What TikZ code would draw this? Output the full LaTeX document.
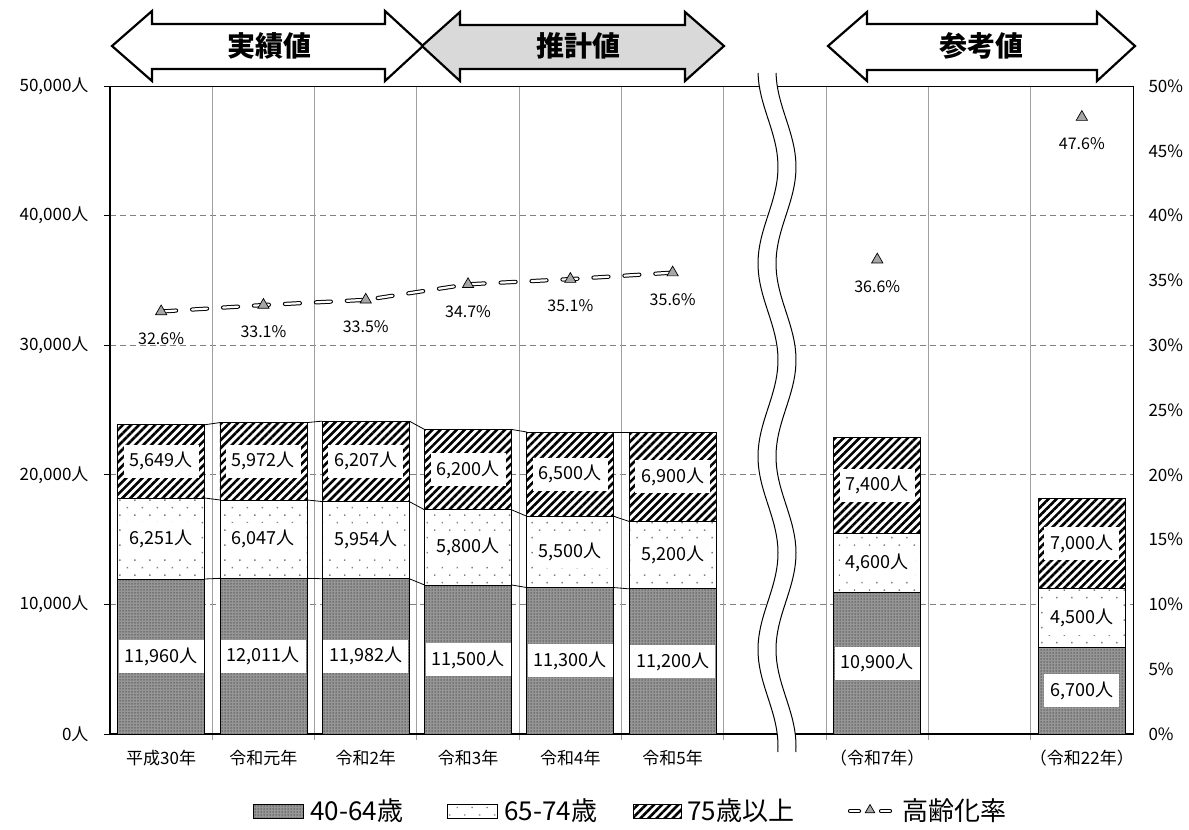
\documentclass[tikz,border=0pt]{standalone}
\usepackage{fontspec}
\setmainfont{Noto Sans CJK JP}
\usetikzlibrary{patterns.meta,shapes.geometric}
\definecolor{hgrid}{HTML}{808080}
\definecolor{vgrid}{HTML}{A0A0A0}
\definecolor{darkfill}{HTML}{969696}
\definecolor{darkdot}{HTML}{505050}
\definecolor{arrowgray}{HTML}{D9D9D9}
\definecolor{markgray}{HTML}{A6A6A6}
\pgfkeys{/pgf/number format/.cd,1000 sep={,},assume math mode=true}
\newcommand{\fs}[1]{\fontsize{#1}{#1}\selectfont}
\begin{document}
\begin{tikzpicture}[x=1pt,y=-1pt,
  seg1/.style={draw=black,line width=0.8pt,preaction={fill=darkfill},pattern={Dots[distance=3pt,radius=0.75pt]},pattern color=darkdot},
  seg2/.style={draw=black,line width=0.8pt,preaction={fill=white},pattern={Dots[distance=10.6pt,angle=45,radius=1pt]},pattern color=gray},
  seg3/.style={draw=black,line width=0.8pt,preaction={fill=white},pattern={Lines[angle=45,distance=5.7pt,line width=2.6pt]},pattern color=black},
  vlab/.style={fill=white,inner xsep=6pt,inner ysep=0pt,minimum height=33pt,font=\fs{18}},
  pline/.style={draw=black,line width=1pt,double=white,double distance=2.2pt,line cap=round,dash pattern=on 15pt off 16pt},
  tri/.style={regular polygon,regular polygon sides=3,minimum size=13pt,inner sep=0pt,fill=markgray,draw=black,line width=0.7pt},
  arr/.style={draw=black,line width=2.2pt,line join=miter},
  arrlab/.style={font=\bfseries\fs{28}},
  axlab/.style={font=\fs{17}},
  cat/.style={font=\fs{17}},
  pct/.style={font=\fs{16}},
  leg/.style={anchor=west,font=\fs{26}}
]
\useasboundingbox (0,0) rectangle (1189,830);
\fill[white] (0,0) rectangle (1189,830);

% grid
\foreach \k in {1,...,4} {
  \pgfmathsetmacro\yy{734-129.6*\k}
  \draw[hgrid,line width=0.8pt,dash pattern=on 6pt off 4pt] (110,\yy) -- (1133,\yy);
}
\foreach \j in {1,...,9} {
  \pgfmathsetmacro\xx{110+102.3*\j}
  \draw[vgrid,line width=1pt] (\xx,86) -- (\xx,740);
}
\draw[black,line width=0.8pt] (110,86) rectangle (1133,734);
\draw[black,line width=1.3pt] (110,86) -- (110,734);
\draw[black,line width=1.5pt] (110,734) -- (1133,734);

% axis labels
\foreach \k/\lab in {0/0,1/{10,000},2/{20,000},3/{30,000},4/{40,000},5/{50,000}} {
  \pgfmathsetmacro\yy{734-129.6*\k}
  \draw[black,line width=0.8pt] (104,\yy) -- (110,\yy);
  \node[axlab,anchor=east] (yl\k) at (92,\yy) {\lab 人};
}
\foreach \k in {0,...,10} {
  \pgfmathsetmacro\yy{734-64.8*\k}
  \pgfmathtruncatemacro\pv{5*\k}
  \node[axlab,anchor=west] (yr\k) at (1145,\yy) {\pv\%};
}

% bars
\foreach \i/\a/\b/\c in {0/11960/6251/5649,1/12011/6047/5972,2/11982/5954/6207,3/11500/5800/6200,4/11300/5500/6500,5/11200/5200/6900,7/10900/4600/7400,9/6700/4500/7000} {
  \pgfmathsetmacro\xc{110+102.3*(\i+0.5)}
  \pgfmathsetmacro\ya{734-12.96*(\a/1000)}
  \pgfmathsetmacro\yb{734-12.96*(\a/1000+\b/1000)}
  \pgfmathsetmacro\yc{734-12.96*(\a/1000+\b/1000+\c/1000)}
  \draw[seg1] (\xc-43.5,734) rectangle (\xc+43.5,\ya);
  \draw[seg2] (\xc-43.5,\ya) rectangle (\xc+43.5,\yb);
  \draw[seg3] (\xc-43.5,\yb) rectangle (\xc+43.5,\yc);
  \node[vlab] (la\i) at (\xc,{(734+\ya)/2}) {\pgfmathprintnumber{\a}人};
  \node[vlab] (lb\i) at (\xc,{(\ya+\yb)/2}) {\pgfmathprintnumber{\b}人};
  \node[vlab] (lc\i) at (\xc,{(\yb+\yc)/2}) {\pgfmathprintnumber{\c}人};
}

% series lines
\foreach \i/\a/\b/\c/\A/\B/\C in {0/11960/6251/5649/12011/6047/5972,1/12011/6047/5972/11982/5954/6207,2/11982/5954/6207/11500/5800/6200,3/11500/5800/6200/11300/5500/6500,4/11300/5500/6500/11200/5200/6900} {
  \pgfmathsetmacro\xr{110+102.3*(\i+0.5)+43.5}
  \pgfmathsetmacro\xl{110+102.3*(\i+1.5)-43.5}
  \draw[black,line width=0.8pt] (\xr,{734-12.96*(\a/1000)}) -- (\xl,{734-12.96*(\A/1000)});
  \draw[black,line width=0.8pt] (\xr,{734-12.96*(\a/1000+\b/1000)}) -- (\xl,{734-12.96*(\A/1000+\B/1000)});
  \draw[black,line width=0.8pt] (\xr,{734-12.96*(\a/1000+\b/1000+\c/1000)}) -- (\xl,{734-12.96*(\A/1000+\B/1000+\C/1000)});
}

% categories
\foreach \i/\t in {0/平成30年,1/令和元年,2/令和2年,3/令和3年,4/令和4年,5/令和5年,7/（令和7年）,9/（令和22年）} {
  \pgfmathsetmacro\xc{110+102.3*(\i+0.5)}
  \node[cat] (cat\i) at (\xc,758) {\t};
}

% break
\fill[white] plot[domain=73:752,samples=120,variable=\t] ({768+10*cos(1.8653*(\t-167))},\t)
  -- plot[domain=752:73,samples=120,variable=\t] ({786+10*cos(1.8653*(\t-167))},\t) -- cycle;
\draw[black,line width=1pt] plot[domain=73:752,samples=120,variable=\t] ({768+10*cos(1.8653*(\t-167))},\t);
\draw[black,line width=1pt] plot[domain=73:752,samples=120,variable=\t] ({786+10*cos(1.8653*(\t-167))},\t);

% ageing rate
\foreach \i/\p in {0/32.6,1/33.1,2/33.5,3/34.7,4/35.1,5/35.6,7/36.6,9/47.6} {
  \pgfmathsetmacro\xc{110+102.3*(\i+0.5)}
  \coordinate (p\i) at (\xc,{734-12.96*\p});
}
\draw[pline] (p0) -- (p1) -- (p2) -- (p3) -- (p4) -- (p5);
\foreach \i/\p in {0/32.6,1/33.1,2/33.5,3/34.7,4/35.1,5/35.6,7/36.6,9/47.6} {
  \node[tri] (m\i) at (p\i) {};
  \node[pct] (q\i) at ([yshift=-27pt]p\i) {\p\%};
}

% top arrows
\draw[arr,fill=white] (112,46) -- (152,11) -- (152,24) -- (385,24) -- (385,11) -- (423,46) -- (385,81) -- (385,69) -- (152,69) -- (152,81) -- cycle;
\draw[arr,fill=arrowgray] (422,46) -- (460,12) -- (460,25) -- (685,25) -- (685,12) -- (724,46) -- (685,81) -- (685,69) -- (460,69) -- (460,81) -- cycle;
\draw[arr,fill=white] (828,46) -- (867,12) -- (867,24) -- (1097,24) -- (1097,12) -- (1135,46) -- (1097,81) -- (1097,70) -- (867,70) -- (867,81) -- cycle;
\node[arrlab] (a1) at (269,46) {実績値};
\node[arrlab] (a2) at (578,46) {推計値};
\node[arrlab] (a3) at (981,46) {参考値};

% legend
\draw[seg1] (253,804) rectangle (303,818);
\node[leg] (lg1) at (307,811) {40-64歳};
\draw[seg2] (447,804) rectangle (497,818);
\node[leg] (lg2) at (501,811) {65-74歳};
\draw[seg3] (633,804) rectangle (681,818);
\node[leg] (lg3) at (684,811) {75歳以上};
\coordinate (lgA) at (850,811);
\coordinate (lgB) at (890,811);
\draw[pline,dash pattern=on 9pt off 22pt] (lgA) -- (lgB);
\node[tri,minimum size=11pt] (lgm) at (870,810) {};
\node[leg] (lg4) at (899,811) {高齢化率};
\end{tikzpicture}
\end{document}
